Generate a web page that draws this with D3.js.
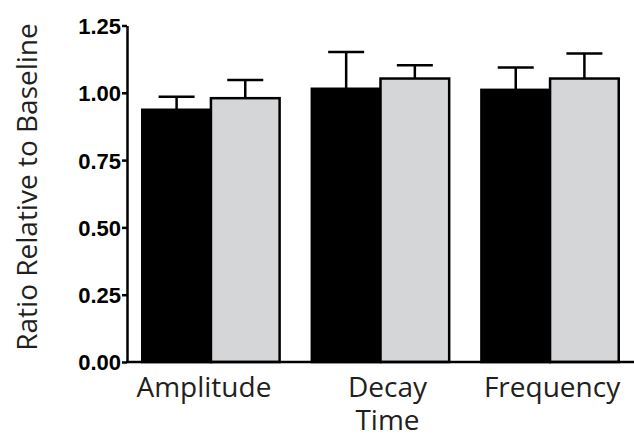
<!DOCTYPE html>
<html>
<head>
<meta charset="utf-8">
<script src="https://cdn.jsdelivr.net/npm/d3@7"></script>
<style>
  body { margin: 0; background: #fff; }
  .tick-label { font-family: 'Liberation Sans', Arial, sans-serif; font-weight: bold; font-size: 22px; }
  .cat-label, .y-title { font-family: 'Open Sans', sans-serif; font-size: 28px; fill: #231f20; }
</style>
</head>
<body>
<div id="chart"></div>
<script>
// categories and series values
var categories = ['Amplitude', 'Decay Time', 'Frequency']
var seriesNames = ['control', 'treated']
var meanBlack = [0.937, 1.015, 1.011]
var errBlack = [0.048, 0.137, 0.083]
var meanGray = [0.98, 1.053, 1.053]
var errGray = [0.068, 0.049, 0.093]
var yTicks = [0, 0.25, 0.5, 0.75, 1.0, 1.25]
var labelShift = [-7, 7, 2]

var width = 634
var height = 438
var colors = { control: '#000000', treated: '#d5d6d8' }

var svg = d3.select('#chart').append('svg')
  .attr('width', width)
  .attr('height', height)

var x0 = d3.scaleBand()
  .domain(categories)
  .range([127, 634])
  .paddingInner(0.19)
  .paddingOuter(0.09)

var x1 = d3.scaleBand()
  .domain(seriesNames)
  .range([0, x0.bandwidth()])

var y = d3.scaleLinear()
  .domain([0, 1.25])
  .range([362, 25.5])

var data = categories.map(function (c, i) {
  return {
    cat: c,
    vals: [
      { key: 'control', mean: meanBlack[i], err: errBlack[i] },
      { key: 'treated', mean: meanGray[i], err: errGray[i] }
    ]
  }
})

var groups = svg.selectAll('.grp')
  .data(data)
  .enter().append('g')
  .attr('class', 'grp')
  .attr('transform', function (d) { return 'translate(' + x0(d.cat) + ',0)' })

// error bars (drawn first so bars cover the lower part)
var eb = groups.selectAll('.err')
  .data(function (d) { return d.vals })
  .enter().append('g')
  .attr('class', 'err')
  .attr('stroke', '#000')
  .attr('stroke-width', 2.5)

eb.append('line')
  .attr('x1', function (d) { return x1(d.key) + x1.bandwidth() / 2 })
  .attr('x2', function (d) { return x1(d.key) + x1.bandwidth() / 2 })
  .attr('y1', function (d) { return y(d.mean) })
  .attr('y2', function (d) { return y(d.mean + d.err) })

eb.append('line')
  .attr('x1', function (d) { return x1(d.key) + x1.bandwidth() / 2 - 18 })
  .attr('x2', function (d) { return x1(d.key) + x1.bandwidth() / 2 + 18 })
  .attr('y1', function (d) { return y(d.mean + d.err) })
  .attr('y2', function (d) { return y(d.mean + d.err) })

groups.selectAll('rect')
  .data(function (d) { return d.vals })
  .enter().append('rect')
  .attr('x', function (d) { return x1(d.key) })
  .attr('y', function (d) { return y(d.mean) })
  .attr('width', x1.bandwidth())
  .attr('height', function (d) { return y(0) - y(d.mean) })
  .attr('fill', function (d) { return colors[d.key] })
  .attr('stroke', '#000')
  .attr('stroke-width', 2.5)

// y axis
var yAxis = svg.append('g')
  .attr('transform', 'translate(127,0)')
  .call(d3.axisLeft(y).tickValues(yTicks).tickSize(5).tickSizeOuter(0).tickPadding(1)
    .tickFormat(d3.format('.2f')))
yAxis.select('.domain').attr('stroke-width', 2.5)
yAxis.selectAll('.tick line').attr('stroke-width', 2.5)
yAxis.selectAll('.tick text').attr('class', 'tick-label').attr('fill', '#000').attr('dy', '0.36em')

// x axis line
svg.append('line')
  .attr('x1', 126).attr('x2', 634)
  .attr('y1', y(0)).attr('y2', y(0))
  .attr('stroke', '#000').attr('stroke-width', 2.5)

// category labels
svg.selectAll('.cat-label')
  .data(categories)
  .enter().append('text')
  .attr('class', 'cat-label')
  .attr('text-anchor', 'middle')
  .attr('x', function (d, i) { return x0(d) + x0.bandwidth() / 2 + labelShift[i] })
  .attr('y', 397)
  .each(function (d) {
    var t = d3.select(this)
    var words = d.split(' ')
    words.forEach(function (w, i) {
      t.append('tspan')
        .attr('x', t.attr('x'))
        .attr('dy', i === 0 ? 0 : 33)
        .text(w)
    })
  })

svg.append('text')
  .attr('class', 'y-title')
  .attr('text-anchor', 'middle')
  .attr('transform', 'translate(37,' + 187 + ')rotate(-90)')
  .text('Ratio Relative to Baseline')
</script>
</body>
</html>
